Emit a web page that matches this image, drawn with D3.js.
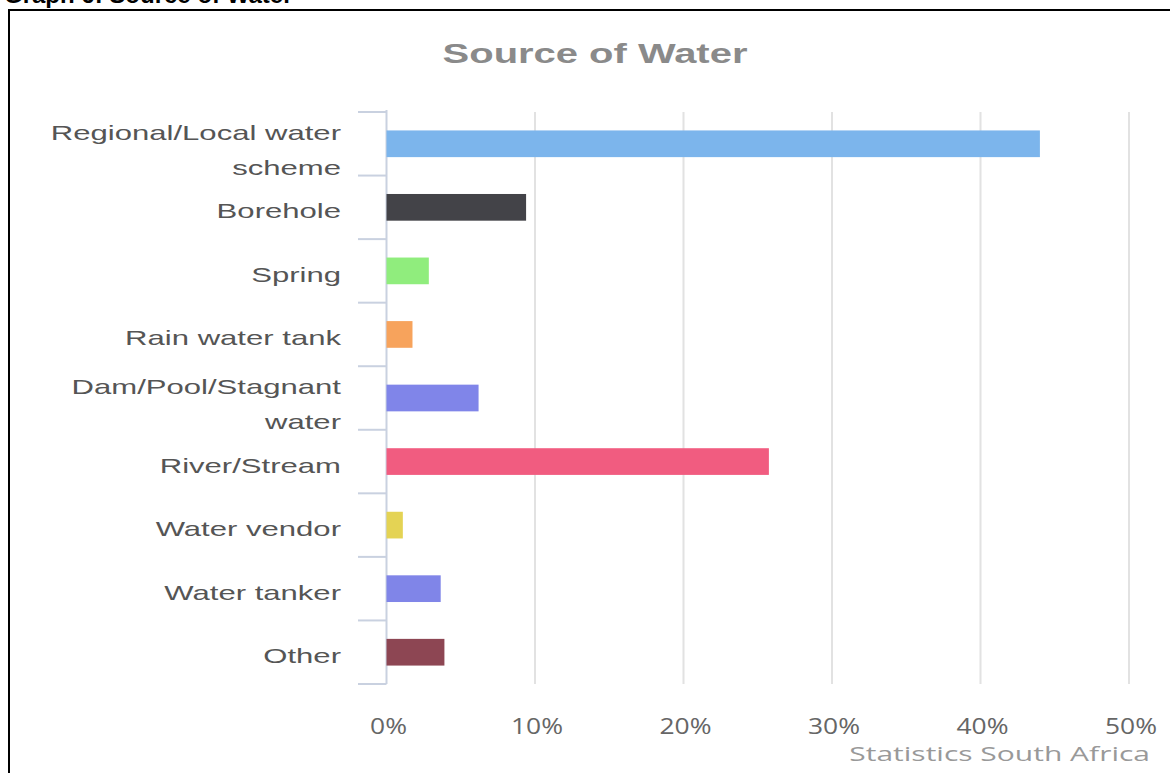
<!DOCTYPE html>
<html>
<head>
<meta charset="utf-8">
<script src="https://cdn.jsdelivr.net/npm/d3@7"></script>
<style>
  html, body { margin: 0; padding: 0; background: #fff; }
  svg { display: block; }
</style>
</head>
<body>
<svg id="chart" width="1170" height="773"></svg>
<script>
// Source of water, share of households (%)
const categories = [
  ["Regional/Local water", "scheme"],
  ["Borehole"],
  ["Spring"],
  ["Rain water tank"],
  ["Dam/Pool/Stagnant", "water"],
  ["River/Stream"],
  ["Water vendor"],
  ["Water tanker"],
  ["Other"]
];
const values = [44.0, 9.4, 2.85, 1.75, 6.2, 25.75, 1.1, 3.65, 3.9];
const colors = ["#7cb5ec", "#434348", "#90ed7d", "#f7a35c", "#8085e9",
                "#f15c80", "#e4d354", "#8085e8", "#8d4653"];
const xTicks = [0, 10, 20, 30, 40, 50];
const xTickLabels = ["0%", "10%", "20%", "30%", "40%", "50%"];
const pageHeading = "Graph 6: Source of Water";
const chartTitle = "Source of Water";
const creditText = "Statistics South Africa";

const svg = d3.select("#chart");
const SX = 1.48; // horizontal stretch of the embedded chart lettering

// horizontally stretched text anchored at (x, y)
function stretchedText(parent, x, y, str, opts) {
  const g = parent.append("g")
    .attr("transform", `translate(${x},${y}) scale(${opts.sx || SX},1)`);
  return g.append("text")
    .attr("x", 0).attr("y", 0)
    .attr("text-anchor", opts.anchor || "start")
    .attr("font-family", opts.family || "'Liberation Sans', Arial, sans-serif")
    .attr("font-size", opts.size)
    .attr("font-weight", opts.weight || "normal")
    .attr("fill", opts.fill || "#555")
    .text(str);
}

// page heading, clipped by the top of the page
svg.append("text")
  .attr("x", 4).attr("y", 3)
  .attr("font-family", "'Liberation Sans', Arial, sans-serif")
  .attr("font-size", 24).attr("font-weight", "bold")
  .attr("fill", "#000")
  .text(pageHeading);

// frame around the figure
svg.append("path")
  .attr("d", "M9,773 L9,10 L1170,10")
  .attr("fill", "none").attr("stroke", "#000").attr("stroke-width", 2);

const x = d3.scaleLinear().domain([0, 50]).range([386.5, 1129]);
const y = d3.scaleBand().domain(d3.range(categories.length)).range([112, 684]).padding(0);
const barH = 26.7;

// vertical grid lines
const grid = svg.append("g");
grid.selectAll("line").data(xTicks.filter(d => d > 0)).join("line")
  .attr("x1", d => x(d)).attr("x2", d => x(d))
  .attr("y1", 112).attr("y2", 684)
  .attr("stroke", "#e2e2e2").attr("stroke-width", 2);

// category axis with ticks at band edges
const axisColor = "#c9d1e0";
svg.append("line")
  .attr("x1", x(0)).attr("x2", x(0))
  .attr("y1", 110).attr("y2", 684)
  .attr("stroke", axisColor).attr("stroke-width", 2);
const edges = d3.range(categories.length + 1).map(i => 112 + i * y.step());
svg.append("g").selectAll("line").data(edges).join("line")
  .attr("x1", 358).attr("x2", x(0))
  .attr("y1", d => d).attr("y2", d => d)
  .attr("stroke", axisColor).attr("stroke-width", 2);

// bars
svg.append("g").selectAll("rect").data(values).join("rect")
  .attr("x", x(0))
  .attr("y", (d, i) => y(i) + y.bandwidth() / 2 - barH / 2)
  .attr("width", d => x(d) - x(0))
  .attr("height", barH)
  .attr("fill", (d, i) => colors[i]);

// category labels
const labelG = svg.append("g");
categories.forEach((lines, i) => {
  const c = y(i) + y.bandwidth() / 2;
  if (lines.length === 1) {
    stretchedText(labelG, 341, c + 11, lines[0], { size: 21, anchor: "end" });
  } else {
    stretchedText(labelG, 341, c - 4, lines[0], { size: 21, anchor: "end" });
    stretchedText(labelG, 341, c + 31.3, lines[1], { size: 21, anchor: "end" });
  }
});

// value axis labels
const xLab = svg.append("g");
xTicks.forEach((t, i) => {
  stretchedText(xLab, x(t) + 2, 734, xTickLabels[i], {
    size: 22, anchor: "middle", sx: 1.2,
    family: "'Open Sans', 'DejaVu Sans', sans-serif", fill: "#666"
  });
});

// title
stretchedText(svg, 595, 63, chartTitle, {
  size: 27, anchor: "middle", weight: "bold", fill: "#8a8a8a"
});

// credits
stretchedText(svg, 1150, 761, creditText, {
  size: 20, anchor: "end", sx: 1.5,
  family: "'Open Sans', 'DejaVu Sans', sans-serif", fill: "#999"
});
</script>
</body>
</html>
